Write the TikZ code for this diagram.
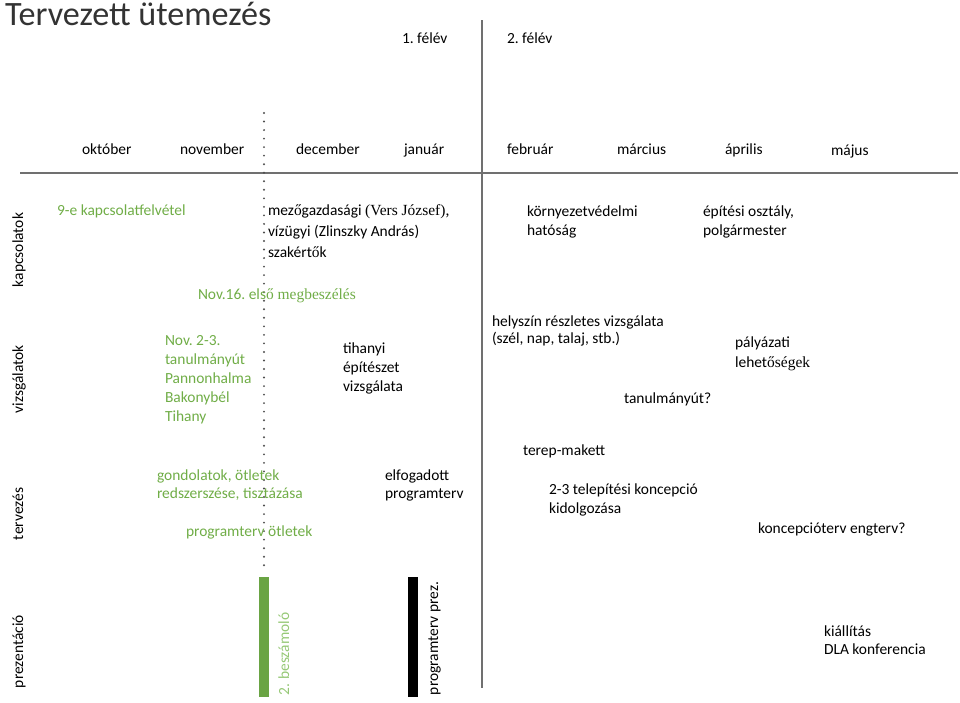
\documentclass[tikz,border=0pt]{standalone}
\usepackage{fontspec}
\setmainfont{Carlito}
\newfontfamily\tnr{Liberation Serif}
\definecolor{ofgreen}{RGB}{112,173,71}
\definecolor{lightgreen}{RGB}{150,200,118}
\definecolor{axisgray}{RGB}{112,112,112}
\frenchspacing
\begin{document}
\begin{tikzpicture}[x=0.75pt,y=-0.75pt,inner sep=0pt,outer sep=0pt,
lbl/.style={anchor=base west,align=left,font=\fontsize{11.6}{14.1}\selectfont},
grn/.style={lbl,text=ofgreen},
skip/.style={font=\fontsize{11.6}{#1}\selectfont},
rowlbl/.style={lbl,rotate=90},
axis/.style={draw=axisgray,line width=1.5pt},
dotline/.style={draw=axisgray!70!black,line width=1.6pt,line cap=round,dash pattern=on 0pt off 6.4pt}]
\useasboundingbox (0,0) rectangle (960,703);
\draw (5,25) node[anchor=base west,text=black!80,font=\fontsize{25.6}{30}\selectfont] (title) {Tervezett ütemezés};
\draw (402,43) node[lbl] (sem1) {1. félév};
\draw (507,43) node[lbl] (sem2) {2. félév};
% honapok
\draw (82,154) node[lbl] (okt) {október};
\draw (180,154) node[lbl] (nov) {november};
\draw (296,154) node[lbl] (dec) {december};
\draw (404,154) node[lbl] (jan) {január};
\draw (507,154) node[lbl] (feb) {február};
\draw (617,154) node[lbl] (mar) {március};
\draw (725,154) node[lbl] (apr) {április};
\draw (831,155) node[lbl] (maj) {május};
\draw[axis] (20,173) coordinate (hl) -- (958,173) coordinate (hr);
\draw[axis] (482,20) coordinate (vt) -- (482,688) coordinate (vb);
\draw[dotline] (264,113) coordinate (dt) -- (264,566) coordinate (db);
% sorok
\draw (23,287) node[rowlbl] (kapcs) {kapcsolatok};
\draw (23,413) node[rowlbl] (vizsg) {vizsgálatok};
\draw (23,540) node[rowlbl] (terv) {tervezés};
\draw (23,688) node[rowlbl] (prez) {prezentáció};
% kapcsolatok
\draw (57,215) node[grn] (kapcsfel) {9-e kapcsolatfelvétel};
\draw (268,257) node[lbl,skip=15.4] (szak) {mez{\tnr ő}gazdasági {\tnr (Vers József),}\\vízügyi (Zlinszky András)\\szakért{\tnr ő}k};
\draw (198,299) node[grn] (megb) {Nov.16. els{\tnr ő megbeszélés}};
\draw (527,235) node[lbl,skip=14.25] (korny) {környezetvédelmi\\hatóság};
\draw (703,235) node[lbl,skip=14.25] (epit) {építési osztály,\\polgármester};
% vizsgalatok
\draw (165,421) node[grn,skip=14.1] (tanut) {Nov. 2-3.\\tanulmányút\\Pannonhalma\\Bakonybél\\Tihany};
\draw (343,391) node[lbl,skip=14.25] (tihanyi) {tihanyi\\építészet\\vizsgálata};
\draw (492,343) node[lbl,skip=12.75] (helyszin) {helyszín részletes vizsgálata\\(szél, nap, talaj, stb.)};
\draw (735,367) node[lbl,skip=15] (palyazat) {pályázati\\lehet{\tnr őségek}};
\draw (624,403) node[lbl] (tanut2) {tanulmányút?};
% tervezes
\draw (523,455) node[lbl] (makett) {terep-makett};
\draw (157,498) node[grn,skip=13.5] (gondol) {gondolatok, ötletek\\redszerszése, tisztázása};
\draw (385,498) node[lbl,skip=13.5] (elfog) {elfogadott\\programterv};
\draw (186,536) node[grn] (progotl) {programterv ötletek};
\draw (549,513) node[lbl,skip=14.25] (konc) {2-3 telepítési koncepció\\kidolgozása};
\draw (758,533) node[lbl] (koncterv) {koncepcióterv engterv?};
% prezentacio
\fill[ofgreen!95!black] (259,577) coordinate (gb1) rectangle (269,697) coordinate (gb2);
\fill[black] (408,577) coordinate (bb1) rectangle (418,697) coordinate (bb2);
\draw (289,695) node[rowlbl,text=lightgreen] (besz) {2. beszámoló};
\draw (438,695) node[rowlbl] (progprez) {programterv prez.};
\draw (824,654) node[lbl,skip=13.5] (kiall) {kiállítás\\DLA konferencia};
\end{tikzpicture}
\end{document}
